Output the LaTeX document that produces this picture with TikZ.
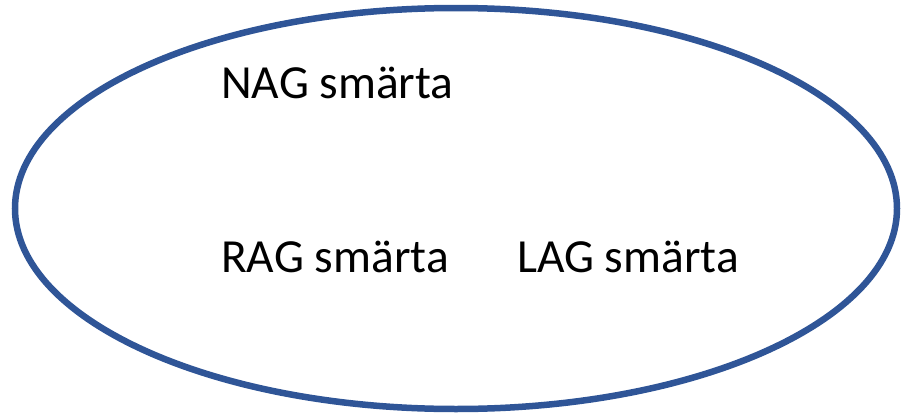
\documentclass[tikz,border=0pt]{standalone}
\usepackage{fontspec}
\setmainfont{Carlito}
\usetikzlibrary{positioning}
\definecolor{ovalblue}{RGB}{47,85,151}
\begin{document}
\begin{tikzpicture}[x=1pt, y=-1pt,
            oval/.style={draw=ovalblue, line width=6.5pt},
            lbl/.style={font=\fontsize{47.5}{52}\selectfont, anchor=base west, inner sep=0pt}
        ]
            \useasboundingbox (0,0) rectangle (905,415);
            % Outer ellipse
            \draw[oval] (456,208.5) ellipse [x radius=441, y radius=200.5];
            
            % Labels
            \node[lbl] (nag) at (221,98) {NAG smärta};
            \node[lbl] (rag) at (221,272) {RAG smärta};
            \node[lbl] (lag) at (517,272) {LAG smärta};
        \end{tikzpicture}
\end{document}
